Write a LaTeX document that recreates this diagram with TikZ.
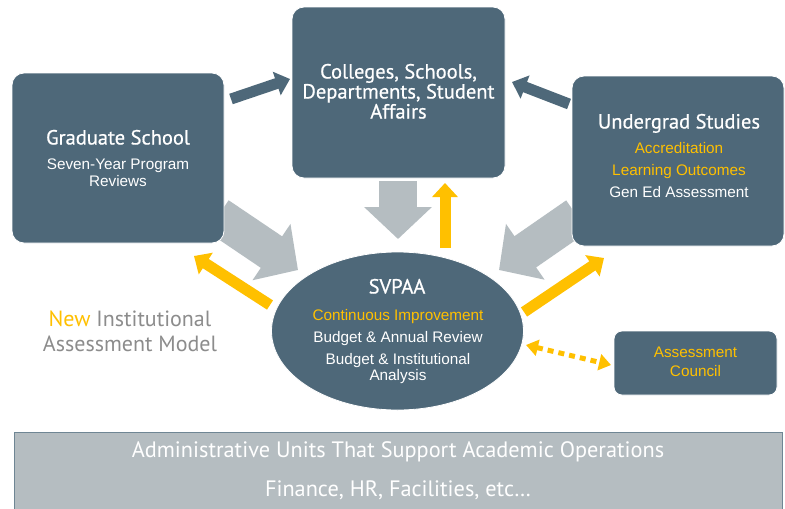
\documentclass[tikz,border=0pt]{standalone}
\usepackage{fontspec}
\setmainfont{Liberation Sans}
\newfontfamily\headfont{PT Sans}
\newfontfamily\boxheadfont[FakeBold=0.6]{PT Sans}
\usetikzlibrary{arrows.meta,shapes.geometric}
\definecolor{slate}{HTML}{4E6879}
\definecolor{lgray}{HTML}{B5BDC1}
\definecolor{gold}{HTML}{FFC000}
\definecolor{mgray}{HTML}{8C8C8C}
\definecolor{barline}{HTML}{6F8694}
\begin{document}
\begin{tikzpicture}[x=1pt,y=-1pt,
  box/.style={draw=white, line width=0.8pt, fill=slate, rounded corners=12pt, inner sep=0pt},
  head/.style={text=white, font=\boxheadfont\fontsize{20.5}{22}\selectfont, inner sep=0pt, text height=0.7em, text depth=0pt},
  body/.style={text=white, font=\fontsize{15.3}{17}\selectfont, inner sep=0pt, text height=0.7em, text depth=0pt},
  bodygold/.style={body, text=gold},
  bartext/.style={text=white, font=\headfont\fontsize{22.3}{24}\selectfont, inner sep=0pt, text height=0.7em, text depth=0pt},
  side/.style={text=mgray, font=\headfont\fontsize{22}{24}\selectfont, inner sep=0pt, text height=0.7em, text depth=0pt},
  bigarrow/.style={draw=lgray, line width=38pt, -{Triangle[length=32pt,width=66pt]}},
  darkarrow/.style={draw=slate, line width=11pt, -{Triangle[length=14pt,width=24pt]}},
  goldarrow/.style={draw=gold, line width=11pt, -{Triangle[length=14pt,width=25pt]}},
  dotarrow/.style={draw=gold, line width=5pt, dash pattern=on 6pt off 5pt, {Triangle[length=12pt,width=16pt]}-{Triangle[length=12pt,width=16pt]}}
]
\clip (0,0) rectangle (785,509);
\fill[white] (0,0) rectangle (785,509);

% arrow end points
\coordinate (gA) at (218,216);
\coordinate (gB) at (298,270);
\coordinate (uA) at (577,216);
\coordinate (uB) at (499,270);
\coordinate (cA) at (398,181);
\coordinate (cB) at (398,239);
\coordinate (d1A) at (231,99);
\coordinate (d1B) at (290,79);
\coordinate (d2A) at (569,104);
\coordinate (d2B) at (512,82);
\coordinate (y1A) at (445,248);
\coordinate (y1B) at (445,183);
\coordinate (y2A) at (270,305);
\coordinate (y2B) at (194,256);
\coordinate (y3A) at (524,312);
\coordinate (y3B) at (604,258);
\coordinate (dtA) at (526,345);
\coordinate (dtB) at (611,365);

% gray block arrows (under boxes)
\draw[bigarrow] (gA) -- (gB);
\draw[bigarrow] (uA) -- (uB);
\draw[bigarrow] (cA) -- (cB);

% gold arrows (tails under ellipse)
\draw[goldarrow] (y1A) -- (y1B);
\draw[goldarrow] (y2A) -- (y2B);
\draw[goldarrow] (y3A) -- (y3B);

% boxes
\node[box, minimum width=212pt, minimum height=170pt] (grad) at (118,158) {};
\node[box, minimum width=213pt, minimum height=171pt] (coll) at (398.5,92.5) {};
\node[box, minimum width=212pt, minimum height=170pt] (ug) at (678,161) {};
\node[box, rounded corners=8pt, minimum width=163pt, minimum height=64pt] (council) at (695.5,363) {};
\node[draw=white, line width=0.8pt, fill=slate, ellipse, minimum width=252pt, minimum height=158pt, inner sep=0pt] (svpaa) at (397.5,331) {};

% dark arrows
\draw[darkarrow] (d1A) -- (d1B);
\draw[darkarrow] (d2A) -- (d2B);

% dotted double arrow
\draw[dotarrow] (dtA) -- (dtB);

% bottom bar
\node[draw=barline, line width=1pt, fill=lgray, minimum width=768pt, minimum height=90pt, anchor=north west, inner sep=0pt] (bar) at (14,432) {};

% texts
\node[head] (gt1) at (118,141) {Graduate School};
\node[body] (gt2) at (118,166) {Seven-Year Program};
\node[body] (gt3) at (118,183) {Reviews};

\node[head] (ct1) at (398.5,75) {Colleges, Schools,};
\node[head] (ct2) at (398.5,95) {Departments, Student};
\node[head] (ct3) at (398.5,115) {Affairs};

\node[head] (ut1) at (679,125) {Undergrad Studies};
\node[bodygold] (ut2) at (679,150) {Accreditation};
\node[bodygold] (ut3) at (679,172) {Learning Outcomes};
\node[body] (ut4) at (679,194) {Gen Ed Assessment};

\node[head] (st1) at (397,290) {SVPAA};
\node[bodygold] (st2) at (398,317) {Continuous Improvement};
\node[body] (st3) at (398,339) {Budget \& Annual Review};
\node[body] (st4) at (398,361) {Budget \& Institutional};
\node[body] (st5) at (398,377) {Analysis};

\node[bodygold] (at1) at (695.5,354) {Assessment};
\node[bodygold] (at2) at (695.5,373) {Council};

\node[side] (nt1) at (130,323) {\textcolor{gold}{New} Institutional};
\node[side] (nt2) at (130,348) {Assessment Model};

\node[bartext] (bt1) at (398,454) {Administrative Units That Support Academic Operations};
\node[bartext] (bt2) at (398,493) {Finance, HR, Facilities, etc…};
\end{tikzpicture}
\end{document}
